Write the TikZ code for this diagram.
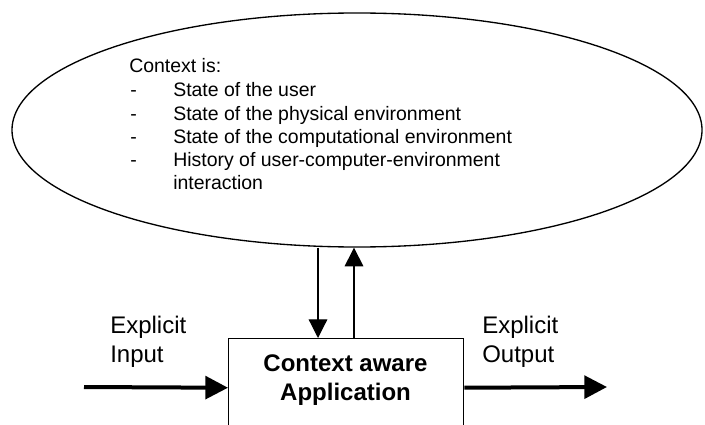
\documentclass[tikz,border=0pt]{standalone}
\usepackage{fontspec}
\setmainfont{Liberation Sans}
\usetikzlibrary{arrows.meta,shapes.geometric}
\begin{document}
\begin{tikzpicture}[x=0.75pt,y=-0.75pt,
  ctxtext/.style={anchor=base west,inner sep=0pt,font=\fontsize{14.6}{17}\selectfont},
  iotext/.style={anchor=base west,inner sep=0pt,font=\fontsize{18}{22}\selectfont},
  apptext/.style={anchor=base,inner sep=0pt,font=\fontsize{18}{22}\selectfont\bfseries},
  flow/.style={line width=3pt,-{Triangle[length=17pt,width=17pt]}},
  feed/.style={line width=0.9pt,-{Triangle[length=14pt,width=14pt]}}]
\clip (0,0) rectangle (705,424);
\useasboundingbox (0,0) rectangle (705,424);

% context ellipse
\node[ellipse,draw,line width=1pt,inner sep=0pt,
      minimum width=517.5pt,minimum height=175.5pt] (ctx) at (357,130) {};

% list inside the ellipse
\node[ctxtext] (head) at (129,73) {Context is:};
\node[ctxtext] (d1) at (130,97) {-};
\node[ctxtext] (l1) at (173,97) {State of the user};
\node[ctxtext] (d2) at (130,120) {-};
\node[ctxtext] (l2) at (173,120) {State of the physical environment};
\node[ctxtext] (d3) at (130,143) {-};
\node[ctxtext] (l3) at (173,143) {State of the computational environment};
\node[ctxtext] (d4) at (130,166) {-};
\node[ctxtext] (l4) at (173,166) {History of user-computer-environment};
\node[ctxtext] (l5) at (173,189) {interaction};

% application box
\node[draw,line width=1.1pt,inner sep=0pt,anchor=north west,
      minimum width=176.25pt,minimum height=73.5pt] (app) at (228,338) {};
\node[apptext] (a1) at (345.5,371) {Context aware};
\node[apptext] (a2) at (345.5,400) {Application};

% explicit input / output labels
\node[iotext] (in1) at (110,333) {Explicit};
\node[iotext] (in2) at (110,362) {Input};
\node[iotext] (out1) at (482,333) {Explicit};
\node[iotext] (out2) at (482,362) {Output};

% connectors
\coordinate (src) at (84,387);
\coordinate (dst) at (607,387);
\coordinate (dn) at (318,338);
\coordinate (up) at (354,338);
\draw[flow] (src) -- (app.west);
\draw[flow] (app.east) -- (dst);
\draw[feed] (dn |- ctx.south) -- (dn);
\draw[feed] (up) -- (up |- ctx.south);
\end{tikzpicture}
\end{document}
